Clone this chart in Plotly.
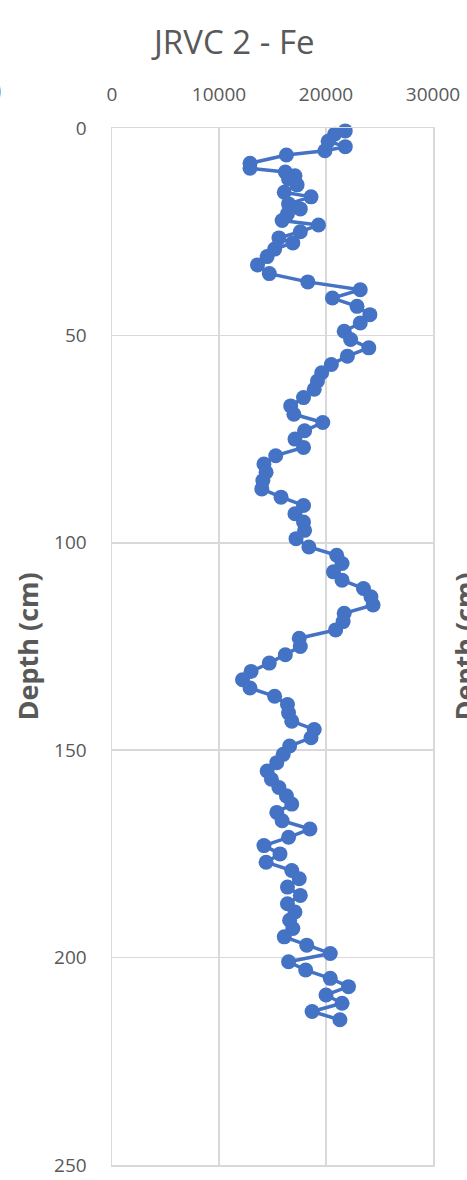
import plotly.graph_objects as go

depth_cm = [0.7, 1.5, 3.2, 4.5, 5.5, 6.5, 8.5, 9.7, 10.6, 11.5, 12.3, 13.7, 15.5, 16.6,
            18.3, 19.5, 20.7, 22.3, 23.4, 25.0, 26.5, 27.7, 29.2, 31.0, 33.0, 35.1, 37.1,
            39, 41, 43, 45, 47, 49, 51, 53, 55, 57, 59, 61, 63, 65, 67, 69, 71, 73, 75,
            77, 79, 81, 83, 85, 87, 89, 91, 93, 95, 97, 99, 101, 103, 105, 107, 109, 111,
            113, 115, 117, 119, 121, 123, 125, 127, 129, 131, 133, 135, 137, 139, 141, 143,
            145, 147, 149, 151, 153, 155, 157, 159, 161, 163, 165, 167, 169, 171, 173, 175,
            177, 179, 181, 183, 185, 187, 189, 191, 193, 195, 197, 199, 201, 203, 205, 207,
            209, 211, 213, 215]

fe_values = [21800, 20800, 20200, 21800, 19900, 16300, 12900, 12900, 16200, 17100, 16500,
             17300, 16100, 18600, 16500, 17600, 16400, 15900, 19300, 17600, 15600, 16900,
             15200, 14500, 13600, 14700, 18300,
             23200, 20600, 22900, 24100, 23200, 21700, 22300, 24000, 22000, 20500, 19600,
             19200, 18900, 17900, 16700, 17000, 19700, 18000, 17100, 17900, 15300, 14200,
             14400, 14100, 14000, 15800, 17900, 17100, 17900, 18000, 17200, 18400, 21000,
             21500, 20700, 21500, 23500, 24200, 24400, 21700, 21600, 20900, 17500, 17600,
             16200, 14700, 13000, 12200, 12900, 15200, 16400, 16500, 16800, 18900, 18600,
             16600, 16000, 15400, 14500, 14900, 15600, 16300, 16800, 15400, 15900, 18500,
             16500, 14200, 15700, 14400, 16800, 17500, 16400, 17600, 16400, 17100, 16600,
             16900, 16100, 18200, 20400, 16500, 18100, 20400, 22100, 20000, 21500, 18700,
             21300]

chart_title = "JRVC 2 - Fe"
y_title = "Depth (cm)"
x_ticks = [0, 10000, 20000, 30000]
y_ticks = [0, 50, 100, 150, 200, 250]

FONT = "Open Sans"
GREY = "#595959"
GRID = "#d9d9d9"
BLUE = "#4472C4"

PL, PR, PT, PB = 112, 433, 128, 1165  # plot area in page pixels
PW, PH = PR - PL, PB - PT


def px_x(x):
    return (x - PL) / PW


def px_y(y):
    return (PB - y) / PH


fig = go.Figure()
fig.add_trace(go.Scatter(
    x=fe_values, y=depth_cm, mode="lines+markers",
    line=dict(color=BLUE, width=3.5),
    marker=dict(color=BLUE, size=15),
    showlegend=False, hoverinfo="skip", cliponaxis=False))

axis_common = dict(
    showgrid=True, gridcolor=GRID, gridwidth=1.5,
    zeroline=False, showline=True, linecolor=GRID, linewidth=1.5, mirror=True,
    ticks="", tickfont=dict(size=19, color=GREY, family=FONT),
    automargin=False, fixedrange=True)

fig.update_layout(
    width=467, height=1180,
    margin=dict(l=PL, r=467 - PR, t=PT, b=1180 - PB),
    paper_bgcolor="white", plot_bgcolor="white",
    font=dict(family=FONT, color=GREY),
    hovermode=False,
    xaxis=dict(side="top", range=[0, 30000], tickvals=x_ticks,
               ticktext=[str(v) for v in x_ticks],
               ticklabelstandoff=18, **axis_common),
    yaxis=dict(range=[250, 0], tickvals=y_ticks,
               ticktext=[str(v) for v in y_ticks],
               ticklabelstandoff=20, **axis_common),
    annotations=[
        dict(text=chart_title, xref="paper", yref="paper",
             x=px_x(232), y=px_y(41),
             xanchor="center", yanchor="middle", showarrow=False,
             font=dict(size=33, color=GREY, family=FONT)),
        dict(text="<b>" + y_title + "</b>", xref="paper", yref="paper",
             x=px_x(27), y=0.5, textangle=-90,
             xanchor="center", yanchor="middle", showarrow=False,
             font=dict(size=27, color=GREY, family=FONT)),
        dict(text="<b>" + y_title + "</b>", xref="paper", yref="paper",
             x=px_x(464), y=0.5, textangle=-90,
             xanchor="center", yanchor="middle", showarrow=False,
             font=dict(size=27, color=GREY, family=FONT)),
        dict(text=")", xref="paper", yref="paper",
             x=px_x(-3), y=px_y(89),
             xanchor="center", yanchor="middle", showarrow=False,
             font=dict(size=29, color=GREY, family=FONT)),
    ],
)

fig.write_html("out.html",
               config={"displayModeBar": False, "staticPlot": True},
               post_script="document.body.style.margin='0';document.body.style.overflow='hidden';")
